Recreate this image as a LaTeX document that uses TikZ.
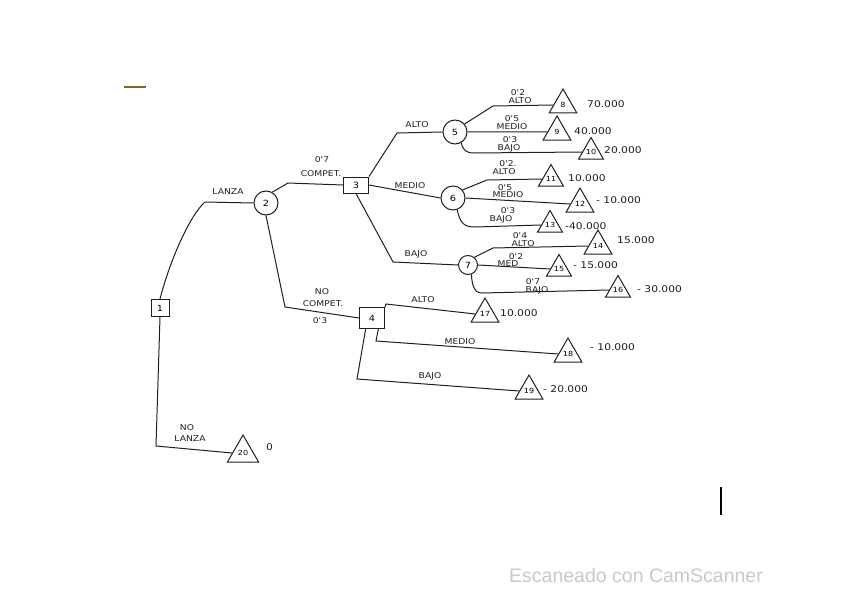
\documentclass[tikz,border=0pt]{standalone}
\usepackage{fontspec}
\setmainfont{DejaVu Sans}
\newfontfamily\hand[FakeStretch=1.15]{DejaVu Sans}
\newfontfamily\wmfont{Liberation Sans}
\usetikzlibrary{shapes.geometric}
\definecolor{ink}{RGB}{30,30,35}
\definecolor{wm}{RGB}{200,200,200}
\definecolor{brownmark}{RGB}{140,95,40}
\tikzset{
  conn/.style={line width=1pt, draw=ink},
  decbox/.style={draw=ink, line width=1pt, minimum width=18pt, minimum height=17pt, inner sep=0pt, font=\hand\fontsize{8.5}{8.5}\selectfont},
  chancenode/.style={draw=ink, line width=1pt, circle, minimum size=24pt, inner sep=0pt, font=\hand\fontsize{8.5}{8.5}\selectfont},
  leaf/.style={draw=ink, line width=1pt, regular polygon, regular polygon sides=3, minimum size=32pt, inner sep=0pt, font=\hand\fontsize{7}{7}\selectfont},
  lbl/.style={inner sep=0pt, text=ink, font=\hand\fontsize{8}{8}\selectfont},
  val/.style={inner sep=0pt, anchor=west, text=ink, font=\hand\fontsize{9.3}{9.5}\selectfont},
}
\begin{document}
\begin{tikzpicture}[x=1pt, y=-1pt]
\useasboundingbox (0,0) rectangle (848,599);

% decision / chance nodes
\node[decbox] (n1) at (160,308) {1};
\node[chancenode] (n2) at (266,203) {2};
\node[decbox, minimum width=25pt, minimum height=16pt] (n3) at (356,185) {3};
\node[decbox, minimum width=25pt, minimum height=21pt] (n4) at (372,318) {4};
\node[chancenode] (n5) at (455,132) {5};
\node[chancenode] (n6) at (453,198) {6};
\node[chancenode, minimum size=19pt] (n7) at (468,265) {7};

% terminal triangles
\node[leaf] (t8) at (563,105) {8};
\node[leaf] (t9) at (557,132) {9};
\node[leaf, minimum size=26pt] (t10) at (591,152) {10};
\node[leaf, minimum size=28pt] (t11) at (551,179) {11};
\node[leaf] (t12) at (580,204) {12};
\node[leaf, minimum size=26pt] (t13) at (550,225) {13};
\node[leaf] (t14) at (598,246) {14};
\node[leaf, minimum size=28pt] (t15) at (559,269) {15};
\node[leaf, minimum size=26pt] (t16) at (618,290) {16};
\node[leaf] (t17) at (485,314) {17};
\node[leaf] (t18) at (568,354) {18};
\node[leaf] (t19) at (529,391) {19};
\node[leaf, minimum size=36pt] (t20) at (243,453) {20};

% connectors
\draw[conn] (n1.north) .. controls (170,260) and (190,215) .. (205,202) -- (n2.west);
\draw[conn] (n1.south) -- (156,446) -- (t20.west);
\draw[conn] (n2.60) -- (288,183) -- (n3.west);
\draw[conn] (n2.south) -- (285,307) -- (n4.west);

\draw[conn] (n3.north east) -- (397,133) -- (n5.west);
\draw[conn] (n3.east) -- (n6.west);
\draw[conn] (n3.south) -- (393,262) -- (n7.west);

\draw[conn] (n5.40) -- (493,106) -- (t8.west);
\draw[conn] (n5.east) -- (t9.west);
\draw[conn] (n5.-60) .. controls (463,150) and (466,153) .. (474,153) -- (t10.west);

\draw[conn] (n6.40) -- (487,180) -- (t11.west);
\draw[conn] (n6.east) -- (t12.west);
\draw[conn] (n6.-70) .. controls (460,224) and (465,227) .. (475,227) -- (t13.west);

\draw[conn] (n7.50) -- (493,248) -- (t14.west);
\draw[conn] (n7.east) -- (t15.west);
\draw[conn] (n7.-70) .. controls (472,285) and (474,293) .. (482,293) -- (t16.west);

\draw[conn] (n4.north east) -- (386,304) -- (t17.west);
\draw[conn] (n4.-60) -- (376,341) -- (t18.west);
\draw[conn] (n4.-120) -- (357,379) -- (t19.west);

% branch labels
\node[lbl] (lLanza) at (228,192) {LANZA};
\node[lbl] (pComp) at (322,160) {0'7};
\node[lbl] (lComp) at (321,174) {COMPET.};
\node[lbl] (lNo1) at (322,292) {NO};
\node[lbl] (lNoComp) at (323,304) {COMPET.};
\node[lbl] (pNoComp) at (320,321) {0'3};
\node[lbl] (lNo2) at (187,428) {NO};
\node[lbl] (lNoLanza) at (190,439) {LANZA};

\node[lbl] (lAlto3) at (417,125) {ALTO};
\node[lbl] (lMedio3) at (410,186) {MEDIO};
\node[lbl] (lBajo3) at (416,254) {BAJO};

\node[lbl] (p8) at (518,93) {0'2};
\node[lbl] (l8) at (520,101) {ALTO};
\node[lbl] (p9) at (512,119) {0'5};
\node[lbl] (l9) at (512,127) {MEDIO};
\node[lbl] (p10) at (510,140) {0'3};
\node[lbl] (l10) at (509,148) {BAJO};

\node[lbl] (p11) at (508,164) {0'2.};
\node[lbl] (l11) at (504,172) {ALTO};
\node[lbl] (p12) at (505,188) {0'5};
\node[lbl] (l12) at (508,195) {MEDIO};
\node[lbl] (p13) at (508,211) {0'3};
\node[lbl] (l13) at (501,219) {BAJO};

\node[lbl] (p14) at (520,236) {0'4};
\node[lbl] (l14) at (523,244) {ALTO};
\node[lbl] (p15) at (516,257) {0'2};
\node[lbl] (l15) at (508,264) {MED};
\node[lbl] (p16) at (533,282) {0'7};
\node[lbl] (l16) at (537,290) {BAJO};

\node[lbl] (l17) at (423,300) {ALTO};
\node[lbl] (l18) at (460,342) {MEDIO};
\node[lbl] (l19) at (430,376) {BAJO};

% payoffs
\node[val] (v8) at (587,104) {70.000};
\node[val] (v9) at (574,131) {40.000};
\node[val] (v10) at (604,150) {20.000};
\node[val] (v11) at (568,178) {10.000};
\node[val] (v12) at (596,200) {- 10.000};
\node[val] (v13) at (565,226) {-40.000};
\node[val] (v14) at (617,240) {15.000};
\node[val] (v15) at (573,265) {- 15.000};
\node[val] (v16) at (637,289) {- 30.000};
\node[val] (v17) at (500,313) {10.000};
\node[val] (v18) at (590,347) {- 10.000};
\node[val] (v19) at (543,389) {- 20.000};
\node[val] (v20) at (266,447) {0};

% scan marks
\draw[brownmark, line width=2pt] (124,87) -- (146,87);
\draw[black, line width=1.5pt] (721,487) -- (721,515);
\node[anchor=west, inner sep=0pt, text=wm, font=\wmfont\fontsize{19.5}{20}\selectfont] (wmark) at (509,576) {Escaneado con CamScanner};
\end{tikzpicture}
\end{document}
